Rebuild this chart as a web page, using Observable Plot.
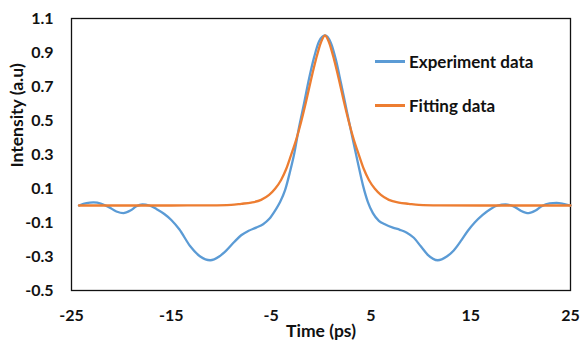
<!DOCTYPE html>
<html>
<head>
<meta charset="utf-8">
<script src="https://cdn.jsdelivr.net/npm/d3@7"></script>
<script src="https://cdn.jsdelivr.net/npm/@observablehq/plot@0.6"></script>
<style>
  html, body { margin: 0; padding: 0; background: #fff; }
  #wrap { position: relative; width: 582px; height: 345px; font-family: Lato, "Open Sans", sans-serif; }
  #legend { position: absolute; left: 375px; top: 47px; font-weight: bold; font-size: 17px; color: #111; }
  .item { display: flex; align-items: center; height: 28px; margin-bottom: 16px; }
  .sw { width: 30px; height: 3px; margin-right: 4px; }
</style>
</head>
<body>
<div id="wrap"></div>
<script>
// Experiment data (blue)
const expX = [-24.25, -23.5, -22.8, -22.0, -21.3, -20.5, -19.8, -19.1, -18.5, -17.9, -17.2, -16.5, -15.7, -15.0, -14.2, -13.1, -12.1, -11.1, -10.2, -9.5, -8.7, -8.0, -7.3, -6.5, -5.8, -5.2, -4.6, -4.1, -3.6, -3.1, -2.7, -2.2, -1.7, -1.2, -0.7, -0.2, 0.4, 1.0, 1.5, 2.0, 2.6, 3.2, 3.7, 4.2, 4.7, 5.2, 5.8, 6.4, 7.2, 7.9, 8.6, 9.3, 10.0, 10.7, 11.7, 12.6, 13.3, 14.0, 14.7, 15.4, 16.2, 17.0, 17.7, 18.5, 19.3, 20.0, 20.8, 21.5, 22.1, 22.9, 23.6, 24.3, 25.0];
const expY = [0.000, 0.014, 0.018, 0.010, -0.008, -0.035, -0.045, -0.030, -0.005, 0.006, 0.000, -0.020, -0.050, -0.085, -0.140, -0.240, -0.300, -0.322, -0.300, -0.265, -0.215, -0.175, -0.150, -0.130, -0.110, -0.080, -0.030, 0.020, 0.090, 0.200, 0.300, 0.460, 0.600, 0.745, 0.870, 0.965, 1.000, 0.955, 0.855, 0.720, 0.552, 0.385, 0.250, 0.120, 0.020, -0.045, -0.090, -0.110, -0.130, -0.143, -0.160, -0.190, -0.240, -0.290, -0.322, -0.300, -0.265, -0.210, -0.150, -0.100, -0.055, -0.020, 0.000, 0.006, -0.005, -0.030, -0.045, -0.030, -0.005, 0.013, 0.016, 0.010, 0.000];

// Fitting data (orange)
const fitX = [-24.25, -15, -11, -9, -8, -7, -6, -5.2, -4.6, -4, -3.5, -3, -2.5, -2, -1.5, -1, -0.5, 0, 0.4, 0.8, 1.3, 1.8, 2.3, 2.8, 3.3, 3.8, 4.3, 4.8, 5.4, 6.0, 6.8, 7.8, 8.8, 9.8, 11.8, 16, 25];
const fitY = [0.000, 0.000, 0.001, 0.004, 0.010, 0.017, 0.033, 0.062, 0.098, 0.150, 0.213, 0.297, 0.385, 0.490, 0.610, 0.740, 0.860, 0.960, 1.000, 0.960, 0.860, 0.740, 0.610, 0.490, 0.385, 0.297, 0.213, 0.150, 0.098, 0.062, 0.033, 0.017, 0.010, 0.004, 0.001, 0.000, 0.000];

const xTicks = [-25, -15, -5, 5, 15, 25];
const yTicks = [-0.5, -0.3, -0.1, 0.1, 0.3, 0.5, 0.7, 0.9, 1.1];
const seriesNames = ["Experiment data", "Fitting data"];
const seriesColors = ["#5B9BD5", "#ED7D31"];
const xTitle = "Time (ps)";
const yTitle = "Intensity (a.u)";

const expData = expX.map((x, i) => ({x, y: expY[i]}));
const fitData = fitX.map((x, i) => ({x, y: fitY[i]}));

const chart = Plot.plot({
  width: 582,
  height: 345,
  marginLeft: 71,
  marginRight: 12,
  marginTop: 18,
  marginBottom: 55,
  style: {fontFamily: "Lato, 'Open Sans', sans-serif", fontSize: "16px", fontWeight: "bold", color: "#111", background: "#fff"},
  x: {domain: [-25, 25], axis: null},
  y: {domain: [-0.5, 1.1], axis: null},
  marks: [
    Plot.axisX(xTicks, {tickSize: 0, tickPadding: 19, tickFormat: d => String(d), fontSize: 16, label: null}),
    Plot.axisY(yTicks, {tickSize: 0, tickPadding: 18, tickFormat: d => d.toFixed(1), fontSize: 16, label: null}),
    Plot.frame({stroke: "#111", strokeWidth: 1.3}),
    Plot.line(expData, {x: "x", y: "y", stroke: seriesColors[0], strokeWidth: 2.3, curve: "monotone-x"}),
    Plot.line(fitData, {x: "x", y: "y", stroke: seriesColors[1], strokeWidth: 2.3, curve: "monotone-x"}),
    Plot.text([xTitle], {frameAnchor: "bottom", dy: 46, fontSize: 17.5, fontWeight: "bold", fill: "#111"}),
    Plot.text([yTitle], {frameAnchor: "left", dx: -54, dy: 13, rotate: -90, fontSize: 17.5, fontWeight: "bold", fill: "#111"})
  ]
});

const wrap = document.getElementById("wrap");
wrap.appendChild(chart);
const legend = document.createElement("div");
legend.id = "legend";
seriesNames.forEach((name, i) => {
  const item = document.createElement("div");
  item.className = "item";
  const sw = document.createElement("div");
  sw.className = "sw";
  sw.style.background = seriesColors[i];
  const label = document.createElement("span");
  label.textContent = name;
  item.appendChild(sw);
  item.appendChild(label);
  legend.appendChild(item);
});
wrap.appendChild(legend);
</script>
</body>
</html>
